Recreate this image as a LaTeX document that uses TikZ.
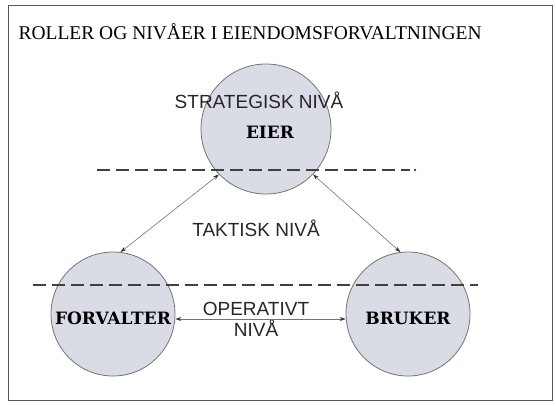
\documentclass[tikz,border=0pt]{standalone}
\usepackage{fontspec}
\setmainfont{Liberation Serif}
\newfontfamily\lsans{Liberation Sans}
\newfontfamily\rolefont{DejaVu Serif}
\usetikzlibrary{arrows.meta}
\begin{document}
\begin{tikzpicture}[x=1pt,y=-1pt,
  role/.style={circle,draw=black!55,line width=0.8pt,fill=rolefill,inner sep=0pt,minimum size=#1},
  rolename/.style={font=\rolefont\bfseries\fontsize{17}{19}\selectfont,text=black},
  lvl/.style={font=\lsans\fontsize{19}{21}\selectfont,align=center,text=black!85},
  levelline/.style={draw=black!75,line width=1.8pt,dash pattern=on 13pt off 6pt},
  link/.style={draw=black!55,line width=0.6pt,{Stealth[length=6pt,width=4pt,black!80]}-{Stealth[length=6pt,width=4pt,black!80]}}]
\definecolor{rolefill}{HTML}{D9DCE5}
\useasboundingbox (0,0) rectangle (556,405);
\node[draw=black!65,line width=1pt,minimum width=544pt,minimum height=395pt,anchor=north west,inner sep=0pt] (frame) at (8,5) {};
\node[anchor=west,font=\fontsize{19.5}{21}\selectfont] (title) at (15,32) {ROLLER OG NIVÅER I EIENDOMSFORVALTNINGEN};
\node[role=130pt] (eier) at (266,129) {};
\node[role=124pt] (forv) at (113,314) {};
\node[role=124pt] (bruk) at (408,314) {};
\node[lvl] (strat) at (259,100) {STRATEGISK NIVÅ};
\node[rolename] (eiert) at (270,132) {EIER};
\node[rolename] (forvt) at (113,318) {FORVALTER};
\node[rolename] (brukt) at (408,318) {BRUKER};
\node[lvl] (takt) at (256,228) {TAKTISK NIVÅ};
\node[lvl] (oper) at (256,319) {OPERATIVT\\NIVÅ};
\coordinate (d1a) at (97,170);
\coordinate (d1b) at (410,170);
\coordinate (d2a) at (33,285);
\coordinate (d2b) at (478,285);
\draw[levelline] (d1a) -- (d1b);
\fill[black!75] (415,170) circle (1.3pt);
\draw[levelline] (d2a) -- (d2b);
\draw[link] (eier.224) -- (forv.83);
\draw[link] (eier.316) -- (bruk.97);
\draw[link] (forv.east |- 0,319) -- (bruk.west |- 0,319);
\end{tikzpicture}
\end{document}
